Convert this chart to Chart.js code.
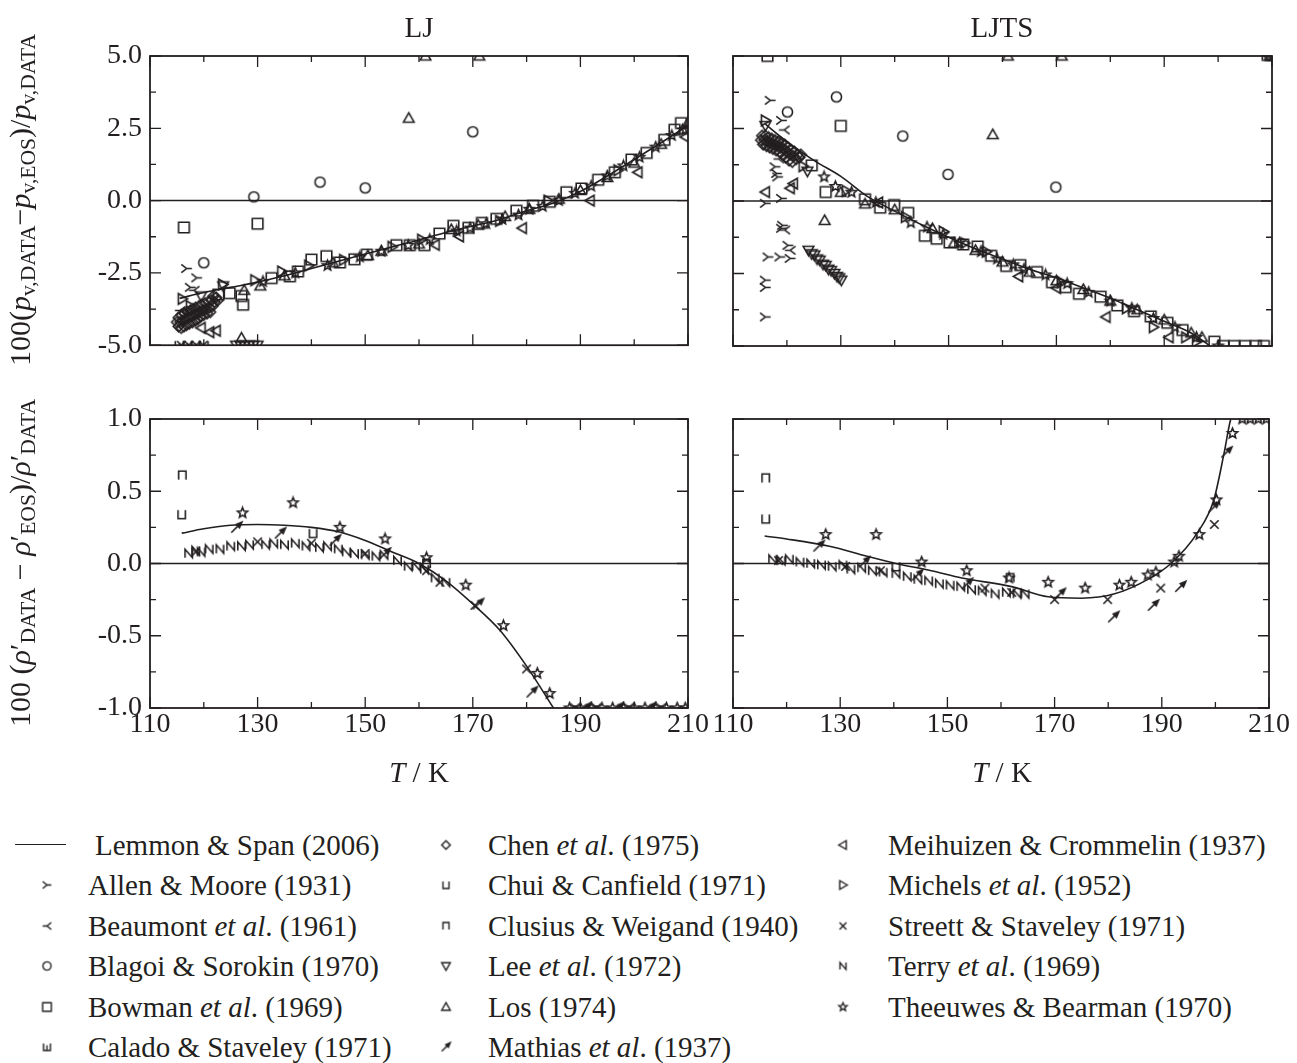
<!DOCTYPE html>
<html>
<head>
<meta charset="utf-8">
<script src="https://cdn.jsdelivr.net/npm/chart.js@4.4.0/dist/chart.umd.min.js"></script>
<style>
  body { margin: 0; background: #fff; width: 1297px; height: 1063px; position: relative; overflow: hidden;
         font-family: "Liberation Serif", "Times New Roman", serif; color: #231f20; }
  canvas.panel { position: absolute; }
  .txt { position: absolute; white-space: nowrap; font-size: 29px; line-height: 1; }
  .ctr { transform: translate(-50%, -50%); }
  .ytitle { position: absolute; white-space: nowrap; font-size: 30px; line-height: 1;
            transform: translate(-50%, -50%) rotate(-90deg); }
  sub { font-size: 0.72em; vertical-align: -0.25em; }
  .leg { position: absolute; font-size: 29px; line-height: 1; white-space: nowrap; transform: translateY(-50%); }
  .legmark { position: absolute; transform: translate(-50%, -50%); }
</style>
</head>
<body>
<canvas id="ljPv" class="panel" width="700" height="370" style="left:0;top:0"></canvas>
<canvas id="ljtsPv" class="panel" width="590" height="370" style="left:700px;top:0"></canvas>
<canvas id="ljRho" class="panel" width="730" height="420" style="left:0;top:380px"></canvas>
<canvas id="ljtsRho" class="panel" width="590" height="420" style="left:700px;top:380px"></canvas>

<div class="txt ctr" style="left:419px;top:27px">LJ</div>
<div class="txt ctr" style="left:1002px;top:27px">LJTS</div>
<div class="txt ctr" style="left:419px;top:772px"><i>T</i> / K</div>
<div class="txt ctr" style="left:1002px;top:772px"><i>T</i> / K</div>
<div class="ytitle" style="left:22px;top:200px">100(<i>p</i><sub>v,DATA</sub>−<i>p</i><sub>v,EOS</sub>)/<i>p</i><sub>v,DATA</sub></div>
<div class="ytitle" style="left:22px;top:563px">100 (<i>ρ</i>′<sub>DATA</sub> − <i>ρ</i>′<sub>EOS</sub>)/<i>ρ</i>′<sub>DATA</sub></div>
<div id="legend"></div>

<script>
const INK = "#231f20";

// axis ticks
const tempTicks = [110, 130, 150, 170, 190, 210];
const tempMinor = [120, 140, 160, 180, 200];
const pvTicks = [-5, -2.5, 0, 2.5, 5];
const pvMinor = [-3.75, -1.25, 1.25, 3.75];
const rhoTicks = [-1, -0.5, 0, 0.5, 1];
const rhoMinor = [-0.75, -0.25, 0.25, 0.75];

// Lemmon & Span (2006) curves
const ljPvCurveT = [115.5, 120, 125, 130, 135, 140, 145, 150, 155, 160, 165, 170, 175, 180, 185, 190, 195, 200, 205, 210];
const ljPvCurve = [-3.38, -3.18, -3.0, -2.82, -2.6, -2.35, -2.1, -1.85, -1.6, -1.36, -1.1, -0.88, -0.65, -0.35, -0.08, 0.32, 0.85, 1.42, 2.0, 2.6];
const ljtsPvCurveT = [116, 120, 125, 130, 135, 140, 145, 150, 155, 160, 165, 170, 175, 180, 185, 190, 195, 198.5];
const ljtsPvCurve = [2.65, 2.05, 1.4, 0.85, 0.15, -0.35, -0.82, -1.25, -1.65, -2.0, -2.35, -2.65, -3.0, -3.35, -3.75, -4.15, -4.55, -5.0];
const ljRhoCurveT = [115.9, 120, 125, 130, 135, 140, 145, 150, 155, 160, 165, 170, 175, 180, 185];
const ljRhoCurve = [0.21, 0.24, 0.265, 0.27, 0.265, 0.25, 0.22, 0.16, 0.08, 0.0, -0.12, -0.28, -0.46, -0.71, -1.0];
const ljtsRhoCurveT = [115.9, 120, 128, 135, 140.4, 147, 152.7, 162, 168.8, 175, 181.2, 187.4, 191.7, 196.6, 199.7, 201.6, 202.8, 203.5];
const ljtsRhoCurve = [0.19, 0.17, 0.12, 0.05, 0.0, -0.05, -0.1, -0.16, -0.23, -0.24, -0.21, -0.11, 0.0, 0.21, 0.44, 0.76, 0.99, 1.05];

// LJ, vapour pressure deviations [T, dev]
const ljPvAllen = [[116.8, -2.35], [118.7, -2.67], [117.5, -3.0]];
const ljPvBeaumont = [[115.6, -3.8], [118.2, -3.1]];
const ljPvBlagoi = [[120, -2.15], [129.3, 0.13], [141.6, 0.64], [150, 0.44], [170, 2.38]];
const ljPvBowman = [[116.3, -0.93], [130, -0.8], [127.3, -3.6], [122.7, -3.25], [124.8, -3.2], [127, -3.3],
  [132.6, -2.68], [136, -2.62], [137.5, -2.45], [140, -2.04], [142.8, -1.92], [145.3, -2.14], [148, -2.03],
  [150.3, -1.87], [155.8, -1.54], [158.3, -1.54], [161, -1.54], [163.8, -1.14], [166.4, -0.87], [169.2, -0.94],
  [171.7, -0.77], [174.4, -0.63], [178.1, -0.35], [181.2, -0.18], [184.3, -0.04], [187.4, 0.29], [190.2, 0.42],
  [193.3, 0.72], [196.4, 0.98], [199.5, 1.42], [202.3, 1.65], [205.6, 2.1], [207.5, 2.45], [208.7, 2.68]];
const ljPvCalado = [[115.5, -5], [117, -5], [118.5, -5], [120, -5]];
const ljPvChen = [[115.0, -4.2], [115.3, -4.35], [115.3, -4.05], [115.6, -4.2], [115.8, -4.4], [115.9, -3.95],
  [116.1, -4.15], [116.3, -4.35], [116.4, -3.9], [116.6, -4.1], [116.8, -4.3], [117.0, -3.85], [117.1, -4.05],
  [117.3, -4.25], [117.5, -3.8], [117.7, -4.0], [117.9, -4.2], [118.0, -3.75], [118.2, -3.95], [118.4, -4.15],
  [118.5, -3.7], [118.7, -3.9], [118.9, -4.1], [119.1, -3.65], [119.2, -3.85], [119.4, -4.0], [119.6, -3.6],
  [119.8, -3.8], [120.0, -3.95], [120.2, -3.55], [120.4, -3.75], [120.6, -3.9], [120.8, -3.5], [121.0, -3.7],
  [121.2, -3.85], [121.4, -3.45], [121.6, -3.65], [121.8, -3.3], [122.0, -3.5], [122.3, -3.35], [122.6, -3.45]];
const ljPvLee = [[126, -5], [126.8, -5], [127.6, -5], [128.4, -5], [129.2, -5], [130, -5], [123.6, -2.95], [119.5, -3.3]];
const ljPvLos = [[127, -4.75], [158.1, 2.85], [161.2, 5.0], [171.2, 5.0], [127.5, -3.1], [130.5, -2.95], [135, -2.6],
  [144, -2.15], [150.5, -1.9], [153, -1.75], [160, -1.5], [166, -1.0], [171, -0.85], [176, -0.55], [180.5, -0.3],
  [186, 0.05], [190, 0.35], [195, 0.8], [200, 1.3], [205, 1.95], [209, 2.45], [210, 2.7]];
const ljPvMeihuizen = [[121.1, -4.55], [119.5, -4.4], [122.3, -4.5], [163, -1.53], [167.5, -1.24], [179.2, -0.95],
  [191.8, 0.0], [200.7, 0.98], [209.5, 2.2]];
const ljPvMichels = [[116, -3.4], [117.5, -3.65], [123.5, -2.9], [129.5, -2.75], [134.5, -2.45], [139.5, -2.25],
  [146, -2.05], [155, -1.6], [160.5, -1.35], [175, -0.7], [184, 0.0], [197, 1.05]];
const ljPvStreett = [[115.8, -5], [117.2, -5], [118.6, -5], [119.9, -5]];
const ljPvTheeuwes = [[131, -2.8], [137, -2.5], [143, -2.25], [149, -1.95], [153, -1.75], [158, -1.55], [162, -1.35],
  [167, -1.05], [169.5, -0.95], [172.5, -0.8], [175.5, -0.65], [178.5, -0.5], [180.5, -0.3], [183, -0.2], [186, 0.0],
  [189, 0.25], [192, 0.5], [195, 0.85], [198, 1.2], [201, 1.5], [204, 1.85], [207, 2.25], [209.5, 2.45]];

// LJTS, vapour pressure deviations
const ljtsPvAllen = [[116.9, 3.47], [119, 2.78], [118.1, 0.95], [117.8, 1.18], [118.3, 0.83], [116, -0.08], [119, 0.09],
  [119, -0.94], [119.2, -0.84], [120.2, -1.53], [116.5, -1.93], [118.7, -1.93], [120.6, -1.98], [116, -2.73],
  [116, -2.98], [116, -4.0]];
const ljtsPvBeaumont = [[119.5, 2.45], [118.5, 1.45], [119.6, -1.0], [120.6, -1.7]];
const ljtsPvBlagoi = [[120.1, 3.07], [129.2, 3.59], [141.5, 2.24], [149.9, 0.92], [169.9, 0.48]];
const ljtsPvBowman = [[116.4, 5.0], [130, 2.59], [127.2, 0.31], [124.6, 1.23], [134.5, 0.06], [137.3, -0.23],
  [139.9, -0.14], [142.5, -0.41], [145.6, -1.2], [147.8, -1.3], [150.2, -1.43], [152.7, -1.5], [155.4, -1.57],
  [157.9, -1.89], [160.7, -2.24], [163.3, -2.21], [166.4, -2.45], [169.2, -2.8], [171.7, -2.97], [174.2, -3.2],
  [178.2, -3.3], [181.3, -3.6], [184.4, -3.8], [187.5, -3.98], [190.6, -4.2], [193.4, -4.45], [199.3, -4.85],
  [201, -5], [203, -5], [205, -5], [207, -5], [208.5, -5]];
const ljtsPvCalado = [[209, 5], [209.5, 5], [210, 5]];
const ljtsPvChen = [[115.2, 2.1], [115.4, 2.25], [115.6, 1.95], [115.8, 2.1], [116.0, 2.25], [116.2, 1.9],
  [116.4, 2.05], [116.6, 2.2], [116.8, 1.85], [117.0, 2.0], [117.2, 2.15], [117.4, 1.8], [117.6, 1.95],
  [117.8, 2.1], [118.0, 1.75], [118.2, 1.9], [118.4, 2.05], [118.6, 1.7], [118.8, 1.85], [119.0, 2.0],
  [119.2, 1.6], [119.4, 1.8], [119.6, 1.95], [119.8, 1.5], [120.0, 1.7], [120.2, 1.85], [120.4, 1.4],
  [120.6, 1.6], [120.8, 1.75], [121.0, 1.35], [121.2, 1.55], [121.4, 1.7], [121.7, 1.45], [122.0, 1.6],
  [122.3, 1.5], [122.6, 1.6]];
const ljtsPvLee = [[124, -1.7], [124.6, -1.82], [125.1, -1.86], [125.6, -2.0], [126.1, -2.04], [126.7, -2.18],
  [127.2, -2.22], [127.7, -2.35], [128.2, -2.4], [128.8, -2.5], [129.3, -2.6], [129.7, -2.65], [130.1, -2.73],
  [123.8, 1.03], [116, 2.6]];
const ljtsPvLos = [[127, -0.67], [158.2, 2.29], [161, 5.0], [171, 5.0], [130, 0.3], [134.5, -0.1], [140, -0.3],
  [147, -0.95], [151, -1.45], [155, -1.7], [160, -2.1], [165, -2.45], [170, -2.75], [175, -3.05], [180, -3.45],
  [185, -3.75], [190, -4.1], [195, -4.55], [197, -4.7]];
const ljtsPvMeihuizen = [[116, 0.31], [120.6, 0.44], [121.2, 0.6], [137, -0.05], [163, -2.6], [170, -3.0],
  [179.2, -4.0], [190.9, -4.7]];
const ljtsPvMichels = [[116, 2.78], [123, 1.2], [131, 0.35], [142, -0.55], [149, -1.05], [153, -1.45], [157, -1.75],
  [171, -2.8], [183, -3.7], [188, -4.35], [194, -4.7], [196, -4.85]];
const ljtsPvTheeuwes = [[126.9, 0.83], [129, 0.5], [132, 0.3], [136.5, -0.05], [143, -0.75], [146, -0.9], [149, -1.15],
  [152, -1.45], [156, -1.75], [159, -2.0], [162, -2.2], [164, -2.35], [168, -2.55], [172, -2.85], [176, -3.15],
  [180, -3.45], [184, -3.7], [188, -4.05], [192, -4.35], [196, -4.7], [200, -5]];

// LJ, saturated liquid density deviations
const ljRhoChui = [[115.9, 0.34], [140.3, 0.21]];
const ljRhoClusius = [[116, 0.61], [161.4, 0.0]];
const ljRhoMathias = [[126.1, 0.25], [134.2, 0.21], [144.4, 0.16], [153.7, 0.07], [171, -0.28], [181, -0.89],
  [191, -1], [197, -1], [203, -1]];
const ljRhoStreett = [[118.5, 0.08], [130, 0.15], [140, 0.14], [150, 0.07], [161.4, -0.05], [163.9, -0.13],
  [170.4, -0.29], [180, -0.73], [189, -1], [193, -1], [199, -1], [205, -1]];
const ljRhoTerry = [[117.2, 0.07], [118.5, 0.09], [119.5, 0.08], [121, 0.1], [123, 0.1], [125, 0.12], [127, 0.12],
  [128.5, 0.13], [131.5, 0.13], [133, 0.14], [135, 0.13], [137, 0.14], [139, 0.12], [141.5, 0.11], [143, 0.12],
  [145, 0.1], [146.5, 0.08], [148, 0.07], [150, 0.06], [152, 0.05], [153.5, 0.06], [156, 0.02], [158, -0.02],
  [159.5, -0.02], [161, -0.04], [163, -0.1], [165, -0.13]];
const ljRhoTheeuwes = [[127.2, 0.35], [136.6, 0.42], [145.3, 0.25], [153.7, 0.17], [161.4, 0.04], [168.7, -0.15],
  [175.7, -0.43], [182, -0.76], [184.3, -0.9], [188, -1], [190, -1], [192, -1], [194, -1], [196, -1], [198, -1],
  [200, -1], [202, -1], [204, -1], [206, -1], [208, -1], [209.5, -1]];

// LJTS, saturated liquid density deviations
const ljtsRhoChui = [[116.1, 0.31], [140.4, -0.02]];
const ljtsRhoClusius = [[116.1, 0.59], [161.7, -0.1]];
const ljtsRhoMathias = [[126, 0.12], [134.5, 0.01], [144.4, -0.08], [153.7, -0.14], [171, -0.21], [181, -0.37],
  [188.4, -0.29], [193.5, -0.16], [199.7, 0.39], [202.1, 0.77]];
const ljtsRhoStreett = [[118.5, 0.02], [131, -0.02], [137.5, -0.05], [157, -0.17], [162, -0.2], [170, -0.25],
  [179.9, -0.25], [189.8, -0.17], [199.8, 0.27]];
const ljtsRhoTerry = [[117.4, 0.03], [119, 0.02], [120.5, 0.03], [122.5, 0.01], [124.5, 0.0], [126.5, -0.01],
  [128.5, -0.02], [130.5, -0.01], [132, -0.04], [134, -0.03], [136, -0.05], [138, -0.06], [140.4, -0.07],
  [142.5, -0.09], [144.5, -0.11], [146.5, -0.12], [148.5, -0.14], [150.5, -0.15], [152.5, -0.16], [154.5, -0.18],
  [156.5, -0.19], [158.9, -0.21], [161, -0.2], [163, -0.21], [164.5, -0.21]];
const ljtsRhoTheeuwes = [[127.3, 0.2], [136.7, 0.2], [145.2, 0.01], [153.6, -0.05], [161.5, -0.1], [168.8, -0.13],
  [175.7, -0.17], [182.1, -0.15], [184.3, -0.13], [187.4, -0.08], [188.9, -0.06], [192.3, 0.01], [193.2, 0.05],
  [197, 0.2], [200.2, 0.44], [203.2, 0.9], [205, 1], [206.5, 1], [208, 1], [209.5, 1]];

// marker glyphs drawn onto small canvases, used as pointStyle
function makeMarker(kind, r, lw) {
  const s = Math.ceil(r * 2 + 4);
  const cv = document.createElement("canvas");
  cv.width = s;
  cv.height = s;
  const g = cv.getContext("2d");
  const c = s / 2;
  g.strokeStyle = INK;
  g.fillStyle = INK;
  g.lineWidth = lw || 1.5;
  g.beginPath();
  switch (kind) {
    case "circle":
      g.arc(c, c, r * 0.95, 0, Math.PI * 2);
      break;
    case "square":
      g.rect(c - r, c - r, r * 2, r * 2);
      break;
    case "diamond":
      g.moveTo(c, c - r); g.lineTo(c + r, c); g.lineTo(c, c + r); g.lineTo(c - r, c); g.closePath();
      break;
    case "triUp":
      g.moveTo(c, c - r); g.lineTo(c + r, c + r * 0.75); g.lineTo(c - r, c + r * 0.75); g.closePath();
      break;
    case "triDown":
      g.moveTo(c, c + r); g.lineTo(c + r, c - r * 0.75); g.lineTo(c - r, c - r * 0.75); g.closePath();
      break;
    case "triLeft":
      g.moveTo(c - r, c); g.lineTo(c + r * 0.75, c - r); g.lineTo(c + r * 0.75, c + r); g.closePath();
      break;
    case "triRight":
      g.moveTo(c + r, c); g.lineTo(c - r * 0.75, c - r); g.lineTo(c - r * 0.75, c + r); g.closePath();
      break;
    case "cross":
      g.moveTo(c - r * 0.8, c - r * 0.8); g.lineTo(c + r * 0.8, c + r * 0.8);
      g.moveTo(c + r * 0.8, c - r * 0.8); g.lineTo(c - r * 0.8, c + r * 0.8);
      break;
    case "star": {
      for (let i = 0; i < 10; i++) {
        const rr = i % 2 === 0 ? r : r * 0.45;
        const a = -Math.PI / 2 + (i * Math.PI) / 5;
        const px = c + rr * Math.cos(a), py = c + rr * Math.sin(a);
        if (i === 0) g.moveTo(px, py); else g.lineTo(px, py);
      }
      g.closePath();
      break;
    }
    case "yRight": // arms left, stem right
      g.moveTo(c - r, c - r * 0.8); g.lineTo(c, c); g.lineTo(c - r, c + r * 0.8);
      g.moveTo(c, c); g.lineTo(c + r, c);
      break;
    case "yLeft": // stem left, arms right
      g.moveTo(c + r, c - r * 0.8); g.lineTo(c, c); g.lineTo(c + r, c + r * 0.8);
      g.moveTo(c, c); g.lineTo(c - r, c);
      break;
    case "cup":
      g.moveTo(c - r * 0.7, c - r * 0.8); g.lineTo(c - r * 0.7, c + r * 0.8);
      g.lineTo(c + r * 0.7, c + r * 0.8); g.lineTo(c + r * 0.7, c - r * 0.8);
      break;
    case "cap":
      g.moveTo(c - r * 0.7, c + r * 0.8); g.lineTo(c - r * 0.7, c - r * 0.8);
      g.lineTo(c + r * 0.7, c - r * 0.8); g.lineTo(c + r * 0.7, c + r * 0.8);
      break;
    case "shcha":
      g.moveTo(c - r * 0.8, c - r * 0.8); g.lineTo(c - r * 0.8, c + r * 0.8);
      g.lineTo(c + r * 0.8, c + r * 0.8); g.lineTo(c + r * 0.8, c - r * 0.8);
      g.moveTo(c, c - r * 0.4); g.lineTo(c, c + r * 0.8);
      break;
    case "enN":
      g.moveTo(c - r * 0.7, c + r * 0.8); g.lineTo(c - r * 0.7, c - r * 0.8);
      g.lineTo(c + r * 0.7, c + r * 0.8); g.lineTo(c + r * 0.7, c - r * 0.8);
      break;
    case "arrow":
      g.moveTo(c - r, c + r); g.lineTo(c + r * 0.3, c - r * 0.3);
      g.stroke();
      g.beginPath();
      g.moveTo(c + r, c - r); g.lineTo(c - r * 0.05, c - r * 0.55); g.lineTo(c + r * 0.55, c + r * 0.05); g.closePath();
      g.fill();
      break;
  }
  g.stroke();
  return cv;
}

const KINDS = ["circle", "square", "diamond", "triUp", "triDown", "triLeft", "triRight", "cross", "star",
  "yRight", "yLeft", "cup", "cap", "shcha", "enN", "arrow"];
const markers = {};
KINDS.forEach((k) => { markers[k] = makeMarker(k, 5.3, 1.6); });

const pts = (arr) => arr.map(([x, y]) => ({ x, y }));

function scatterSet(arr, kind) {
  return { data: pts(arr), pointStyle: markers[kind], pointRadius: 5, showLine: false, clip: 0 };
}

function curveSet(xs, ys) {
  return {
    data: xs.map((x, i) => ({ x, y: ys[i] })),
    showLine: true, pointRadius: 0, borderColor: INK, borderWidth: 1.6,
    cubicInterpolationMode: "monotone", clip: 0,
  };
}

// frame, zero line and inward tick marks on all four sides
const framePlugin = {
  id: "frame",
  beforeDatasetsDraw(chart) {
    const { ctx, chartArea: a, scales } = chart;
    const y0 = scales.y.getPixelForValue(0);
    ctx.save();
    ctx.strokeStyle = INK;
    ctx.lineWidth = 1.5;
    ctx.beginPath();
    ctx.moveTo(a.left, y0);
    ctx.lineTo(a.right, y0);
    ctx.stroke();
    ctx.restore();
  },
  afterDatasetsDraw(chart, args, opts) {
    const { ctx, chartArea: a, scales } = chart;
    ctx.save();
    ctx.strokeStyle = INK;
    ctx.lineWidth = 1.8;
    ctx.strokeRect(a.left, a.top, a.right - a.left, a.bottom - a.top);
    ctx.lineWidth = 1.3;
    ctx.beginPath();
    const xt = (vals, len) => vals.forEach((v) => {
      const px = scales.x.getPixelForValue(v);
      ctx.moveTo(px, a.bottom); ctx.lineTo(px, a.bottom - len);
      ctx.moveTo(px, a.top); ctx.lineTo(px, a.top + len);
    });
    const yt = (vals, len) => vals.forEach((v) => {
      const py = scales.y.getPixelForValue(v);
      ctx.moveTo(a.left, py); ctx.lineTo(a.left + len, py);
      ctx.moveTo(a.right, py); ctx.lineTo(a.right - len, py);
    });
    xt(opts.xMajor, 11);
    xt(opts.xMinor, 6);
    yt(opts.yMajor, 11);
    yt(opts.yMinor, 6);
    ctx.stroke();
    ctx.restore();
  },
};

const tickFont = { family: "'Liberation Serif', 'Times New Roman', serif", size: 28 };

function makePanel(id, datasets, o) {
  new Chart(document.getElementById(id), {
    type: "scatter",
    data: { datasets },
    plugins: [framePlugin],
    options: {
      responsive: false,
      animation: false,
      events: [],
      layout: { padding: o.padding },
      plugins: {
        legend: { display: false },
        tooltip: { enabled: false },
        frame: { xMajor: tempTicks, xMinor: tempMinor, yMajor: o.yTicks, yMinor: o.yMinor },
      },
      scales: {
        x: {
          type: "linear", min: 110, max: 210, display: o.showX,
          grid: { display: false, drawTicks: false }, border: { display: false },
          ticks: { font: tickFont, color: INK, padding: 0, maxRotation: 0, autoSkip: false, callback: (v) => String(v) },
          afterBuildTicks: (s) => { s.ticks = tempTicks.map((v) => ({ value: v })); },
          afterFit: (s) => { s.height = o.showX ? 92 : 0; },
        },
        y: {
          type: "linear", min: o.yTicks[0], max: o.yTicks[o.yTicks.length - 1], display: o.showY,
          grid: { display: false, drawTicks: false }, border: { display: false },
          ticks: { font: tickFont, color: INK, padding: 8, callback: (v) => Number(v).toFixed(1) },
          afterBuildTicks: (s) => { s.ticks = o.yTicks.map((v) => ({ value: v })); },
          afterFit: (s) => { s.width = o.showY ? 150 : 0; },
        },
      },
    },
  });
}

makePanel("ljPv", [
  scatterSet(ljPvAllen, "yRight"), scatterSet(ljPvBeaumont, "yLeft"), scatterSet(ljPvBlagoi, "circle"),
  scatterSet(ljPvBowman, "square"), scatterSet(ljPvCalado, "shcha"), scatterSet(ljPvChen, "diamond"),
  scatterSet(ljPvLee, "triDown"), scatterSet(ljPvLos, "triUp"), scatterSet(ljPvMeihuizen, "triLeft"),
  scatterSet(ljPvMichels, "triRight"), scatterSet(ljPvStreett, "cross"), scatterSet(ljPvTheeuwes, "star"),
  curveSet(ljPvCurveT, ljPvCurve),
], { padding: { top: 56, right: 12, bottom: 24, left: 0 }, showX: false, showY: true, yTicks: pvTicks, yMinor: pvMinor });

makePanel("ljtsPv", [
  scatterSet(ljtsPvAllen, "yRight"), scatterSet(ljtsPvBeaumont, "yLeft"), scatterSet(ljtsPvBlagoi, "circle"),
  scatterSet(ljtsPvBowman, "square"), scatterSet(ljtsPvCalado, "shcha"), scatterSet(ljtsPvChen, "diamond"),
  scatterSet(ljtsPvLee, "triDown"), scatterSet(ljtsPvLos, "triUp"), scatterSet(ljtsPvMeihuizen, "triLeft"),
  scatterSet(ljtsPvMichels, "triRight"), scatterSet(ljtsPvTheeuwes, "star"),
  curveSet(ljtsPvCurveT, ljtsPvCurve),
], { padding: { top: 56, right: 18, bottom: 24, left: 33 }, showX: false, showY: false, yTicks: pvTicks, yMinor: pvMinor });

makePanel("ljRho", [
  scatterSet(ljRhoChui, "cup"), scatterSet(ljRhoClusius, "cap"), scatterSet(ljRhoMathias, "arrow"),
  scatterSet(ljRhoStreett, "cross"), scatterSet(ljRhoTerry, "enN"), scatterSet(ljRhoTheeuwes, "star"),
  curveSet(ljRhoCurveT, ljRhoCurve),
], { padding: { top: 39, right: 42, bottom: 0, left: 0 }, showX: true, showY: true, yTicks: rhoTicks, yMinor: rhoMinor });

makePanel("ljtsRho", [
  scatterSet(ljtsRhoChui, "cup"), scatterSet(ljtsRhoClusius, "cap"), scatterSet(ljtsRhoMathias, "arrow"),
  scatterSet(ljtsRhoStreett, "cross"), scatterSet(ljtsRhoTerry, "enN"), scatterSet(ljtsRhoTheeuwes, "star"),
  curveSet(ljtsRhoCurveT, ljtsRhoCurve),
], { padding: { top: 39, right: 18, bottom: 0, left: 33 }, showX: true, showY: false, yTicks: rhoTicks, yMinor: rhoMinor });

// legend, three columns
const legendCols = [
  { mx: 47, tx: 88, items: [
    ["line", "Lemmon &amp; Span (2006)"], ["yRight", "Allen &amp; Moore (1931)"], ["yLeft", "Beaumont <i>et al</i>. (1961)"],
    ["circle", "Blagoi &amp; Sorokin (1970)"], ["square", "Bowman <i>et al</i>. (1969)"], ["shcha", "Calado &amp; Staveley (1971)"] ] },
  { mx: 446, tx: 488, items: [
    ["diamond", "Chen <i>et al</i>. (1975)"], ["cup", "Chui &amp; Canfield (1971)"], ["cap", "Clusius &amp; Weigand (1940)"],
    ["triDown", "Lee <i>et al</i>. (1972)"], ["triUp", "Los (1974)"], ["arrow", "Mathias <i>et al</i>. (1937)"] ] },
  { mx: 843, tx: 888, items: [
    ["triLeft", "Meihuizen &amp; Crommelin (1937)"], ["triRight", "Michels <i>et al</i>. (1952)"], ["cross", "Streett &amp; Staveley (1971)"],
    ["enN", "Terry <i>et al</i>. (1969)"], ["star", "Theeuwes &amp; Bearman (1970)"] ] },
];
const legendRows = [845, 885, 926, 966, 1007, 1047];
const legendEl = document.getElementById("legend");
legendCols.forEach((col) => {
  col.items.forEach(([kind, label], i) => {
    const y = legendRows[i];
    if (kind === "line") {
      const ln = document.createElement("div");
      ln.style.cssText = `position:absolute;left:15px;top:${y - 1}px;width:51px;height:0;border-top:1.5px solid ${INK}`;
      legendEl.appendChild(ln);
      const t = document.createElement("div");
      t.className = "leg";
      t.style.left = "95px";
      t.style.top = y + "px";
      t.innerHTML = label;
      legendEl.appendChild(t);
      return;
    }
    const m = makeMarker(kind, 4.3, 1.4);
    m.className = "legmark";
    m.style.left = col.mx + "px";
    m.style.top = y + "px";
    legendEl.appendChild(m);
    const t = document.createElement("div");
    t.className = "leg";
    t.style.left = col.tx + "px";
    t.style.top = y + "px";
    t.innerHTML = label;
    legendEl.appendChild(t);
  });
});
</script>
</body>
</html>
